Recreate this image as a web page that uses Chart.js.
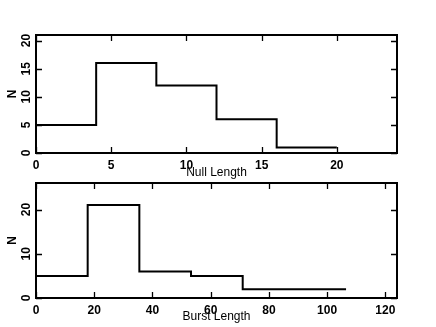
<!DOCTYPE html>
<html>
<head>
<meta charset="utf-8">
<script src="https://cdn.jsdelivr.net/npm/chart.js@4.4.1/dist/chart.umd.min.js"></script>
<style>
  body { margin: 0; background: #fff; }
  #wrap { position: relative; width: 436px; height: 327px; }
  canvas { position: absolute; left: 0; }
</style>
</head>
<body>
<div id="wrap">
  <canvas id="null-chart" width="436" height="180" style="top:0"></canvas>
  <canvas id="burst-chart" width="436" height="157" style="top:170px"></canvas>
</div>
<script>
// histogram bin edges and counts
const nullEdges = [0, 4, 8, 12, 16, 20];
const nullCounts = [5, 16, 12, 6, 1];
const burstEdges = [0, 17.75, 35.5, 53.25, 71, 88.75, 106.5];
const burstCounts = [5, 21, 6, 5, 2, 2];

// axis ranges / tick steps
const nullX = { min: 0, max: 24, step: 5 };
const nullY = { min: 0, max: 21, step: 5 };
const burstX = { min: 0, max: 124, step: 20 };
const burstY = { min: 0, max: 26, step: 10 };

Chart.defaults.font.family = '"Liberation Sans", Arial, sans-serif';
Chart.defaults.color = '#000';

// turn edges + counts into points for a stepped line
const toSteps = (edges, counts) =>
  edges.map((e, i) => ({ x: e, y: counts[Math.min(i, counts.length - 1)] }));

// box round the plot area and inward ticks on all four sides
const frameTicks = {
  id: 'frameTicks',
  afterDraw(chart) {
    const { ctx, chartArea: a, scales } = chart;
    const len = 6;
    ctx.save();
    ctx.strokeStyle = '#000';
    ctx.lineWidth = 1.3;
    ctx.beginPath();
    scales.x.ticks.forEach(t => {
      const px = Math.round(scales.x.getPixelForValue(t.value)) + 0.5;
      ctx.moveTo(px, a.bottom); ctx.lineTo(px, a.bottom - len);
      ctx.moveTo(px, a.top); ctx.lineTo(px, a.top + len);
    });
    scales.y.ticks.forEach(t => {
      const py = Math.round(scales.y.getPixelForValue(t.value)) + 0.5;
      ctx.moveTo(a.left, py); ctx.lineTo(a.left + len, py);
      ctx.moveTo(a.right, py); ctx.lineTo(a.right - len, py);
    });
    ctx.stroke();
    ctx.lineWidth = 2;
    ctx.strokeRect(a.left, a.top, a.right - a.left, a.bottom - a.top);
    ctx.restore();
  }
};

const makeChart = (id, edges, counts, xr, yr, xTitle, pad, xHeight, titlePad) => {
  const ctx = document.getElementById(id).getContext('2d');
  return new Chart(ctx, {
    type: 'line',
    data: {
      datasets: [{
        data: toSteps(edges, counts),
        stepped: 'before',
        borderColor: '#000',
        borderWidth: 2,
        pointRadius: 0,
        fill: false
      }]
    },
    options: {
      responsive: false,
      animation: false,
      devicePixelRatio: 1,
      layout: { padding: pad },
      plugins: { legend: { display: false }, tooltip: { enabled: false } },
      scales: {
        x: {
          type: 'linear',
          min: xr.min,
          max: xr.max,
          grid: { display: false, drawTicks: false },
          border: { display: false },
          ticks: {
            stepSize: xr.step,
            includeBounds: false,
            maxRotation: 0,
            padding: 5,
            font: { size: 12, weight: 'bold' }
          },
          title: {
            display: true,
            text: xTitle,
            font: { size: 12 },
            padding: { top: 0, bottom: titlePad }
          },
          afterFit: s => { s.height = xHeight; }
        },
        y: {
          type: 'linear',
          min: yr.min,
          max: yr.max,
          grid: { display: false, drawTicks: false },
          border: { display: false },
          ticks: {
            stepSize: yr.step,
            includeBounds: false,
            minRotation: 90,
            maxRotation: 90,
            crossAlign: 'center',
            padding: 3,
            font: { size: 12, weight: 'bold' }
          },
          title: {
            display: true,
            text: 'N',
            font: { size: 12, weight: 'bold' },
            padding: { top: 5, bottom: 0 }
          },
          afterFit: s => { s.width = 36; }
        }
      }
    },
    plugins: [frameTicks]
  });
};

makeChart('null-chart', nullEdges, nullCounts, nullX, nullY, 'Null Length',
  { left: 0, right: 39, top: 35, bottom: 0 }, 27, 0);
makeChart('burst-chart', burstEdges, burstCounts, burstX, burstY, 'Burst Length',
  { left: 0, right: 39, top: 13, bottom: 0 }, 29, 3);
</script>
</body>
</html>
